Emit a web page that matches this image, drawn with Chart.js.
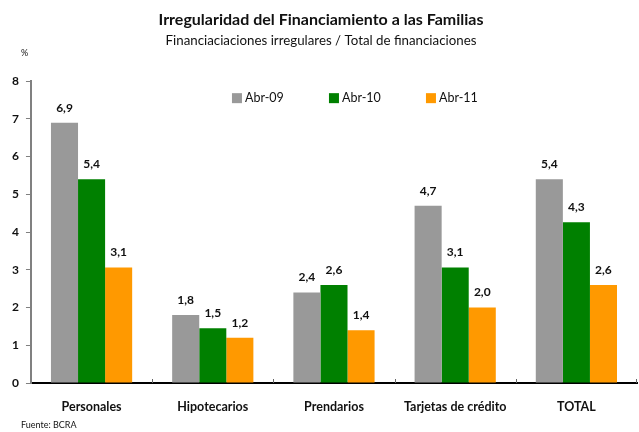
<!DOCTYPE html>
<html>
<head>
<meta charset="utf-8">
<script src="https://cdn.jsdelivr.net/npm/chart.js@4/dist/chart.umd.min.js"></script>
<style>
  html, body { margin: 0; padding: 0; background: #fff; }
  #wrap { width: 639px; height: 432px; position: relative; }
</style>
</head>
<body>
<div id="wrap"><canvas id="chart"></canvas></div>
<script>
// chart data
const categories = ['Personales', 'Hipotecarios', 'Prendarios', 'Tarjetas de crédito', 'TOTAL'];
const abr09 = [6.9, 1.8, 2.4, 4.7, 5.4];
const abr10 = [5.4, 1.45, 2.6, 3.06, 4.26];
const abr11 = [3.06, 1.2, 1.4, 2.0, 2.6];
const seriesNames = ['Abr-09', 'Abr-10', 'Abr-11'];
const seriesColors = ['#999999', '#008000', '#FF9900'];

const FONT = 'Lato, "Open Sans", sans-serif';

function fmt(v) {
  return (Math.round(v * 10) / 10).toFixed(1).replace('.', ',');
}

// value labels, legend, inward category ticks, % and source note
const extras = {
  id: 'extras',
  afterDatasetsDraw(chart) {
    const ctx = chart.ctx;
    const area = chart.chartArea;
    ctx.save();

    // value labels above each bar
    ctx.fillStyle = '#111';
    ctx.font = 'bold 12px ' + FONT;
    ctx.textAlign = 'center';
    ctx.textBaseline = 'bottom';
    chart.data.datasets.forEach((ds, i) => {
      chart.getDatasetMeta(i).data.forEach((bar, j) => {
        ctx.fillText(fmt(ds.data[j]), bar.x, bar.y - 9);
      });
    });

    // small tick marks between categories on the x axis
    const xs = chart.scales.x;
    ctx.strokeStyle = '#666';
    ctx.lineWidth = 1;
    for (let i = 1; i <= categories.length; i++) {
      const x = i < categories.length
        ? Math.round((xs.getPixelForValue(i - 1) + xs.getPixelForValue(i)) / 2) + 0.5
        : area.right - 0.5;
      ctx.beginPath();
      ctx.moveTo(x, area.bottom);
      ctx.lineTo(x, area.bottom - 4);
      ctx.stroke();
    }

    // legend inside the plot
    ctx.font = '12.5px ' + FONT;
    ctx.textAlign = 'left';
    ctx.textBaseline = 'middle';
    const ly = area.top + 17;
    seriesNames.forEach((name, i) => {
      const lx = area.left + 201 + i * 97;
      ctx.fillStyle = seriesColors[i];
      ctx.fillRect(lx, ly - 5, 10, 10);
      ctx.fillStyle = '#111';
      ctx.fillText(name, lx + 13, ly);
    });

    // unit and source
    ctx.font = '9px ' + FONT;
    ctx.fillText('%', 21, 53);
    ctx.fillText('Fuente: BCRA', 21, 425);
    ctx.restore();
  }
};

new Chart(document.getElementById('chart'), {
  type: 'bar',
  data: {
    labels: categories,
    datasets: [
      { label: seriesNames[0], data: abr09, backgroundColor: seriesColors[0] },
      { label: seriesNames[1], data: abr10, backgroundColor: seriesColors[1] },
      { label: seriesNames[2], data: abr11, backgroundColor: seriesColors[2] }
    ]
  },
  options: {
    responsive: true,
    maintainAspectRatio: false,
    animation: false,
    layout: { padding: { left: 5, right: 2, top: 0, bottom: 2 } },
    datasets: {
      bar: { barPercentage: 1, categoryPercentage: 0.67 }
    },
    plugins: {
      legend: { display: false },
      tooltip: { enabled: false },
      title: {
        display: true,
        text: 'Irregularidad del Financiamiento a las Familias',
        color: '#111',
        font: { family: FONT, size: 16, weight: 'bold' },
        padding: { top: 10, bottom: 4 }
      },
      subtitle: {
        display: true,
        text: 'Financiaciaciones irregulares / Total de financiaciones',
        color: '#111',
        font: { family: FONT, size: 13.3 },
        padding: { top: 0, bottom: 32 }
      }
    },
    scales: {
      x: {
        grid: { display: false, drawTicks: false },
        border: { color: '#000', width: 2 },
        ticks: {
          color: '#111',
          padding: 16,
          font: { family: FONT, size: 12.5, weight: 'bold' }
        }
      },
      y: {
        min: 0,
        max: 8,
        ticks: {
          stepSize: 1,
          color: '#111',
          padding: 7,
          font: { family: FONT, size: 12, weight: 'bold' }
        },
        grid: { drawOnChartArea: false, tickLength: 5, color: '#808080' },
        border: { color: '#808080', width: 2 }
      }
    }
  },
  plugins: [extras]
});
</script>
</body>
</html>
